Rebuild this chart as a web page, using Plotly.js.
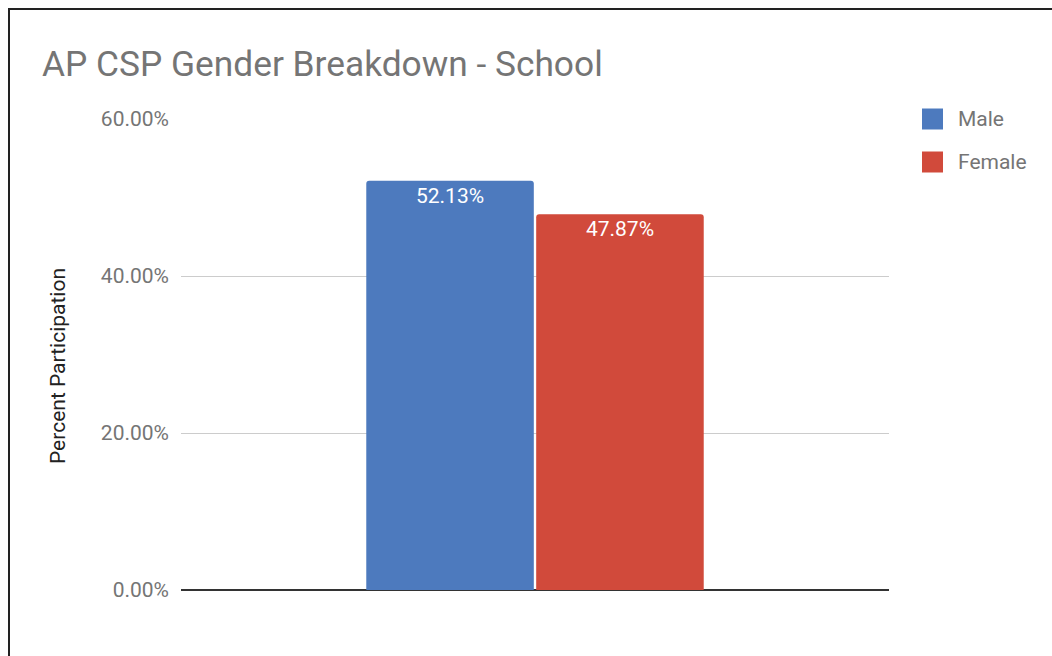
<!DOCTYPE html>
<html>
<head>
<meta charset="utf-8">
<script src="https://cdn.plot.ly/plotly-3.0.1.min.js"></script>
<style>
  html, body { margin: 0; padding: 0; background: #fff; }
  #wrap { position: relative; width: 1052px; height: 656px; overflow: hidden; }
  #chart { width: 1052px; height: 656px; }
  #frame { position: absolute; left: 8px; top: 8px; width: 1100px; height: 700px;
           border-left: 2px solid #222; border-top: 2px solid #222; pointer-events: none; }
</style>
</head>
<body>
<div id="wrap">
  <div id="chart"></div>
  <div id="frame"></div>
</div>
<script>
const categories = ["School"];
const seriesNames = ["Male", "Female"];
const maleValues = [52.13];
const femaleValues = [47.87];
const seriesColors = ["#4d7abe", "#d14a3b"];
const yTickValues = [0, 20, 40, 60];
const yTickLabels = ["0.00%", "20.00%", "40.00%", "60.00%"];
const titleText = "AP CSP Gender Breakdown - School";
const yTitleText = "Percent Participation";

const FONT = "Roboto, 'Noto Sans', Arial, sans-serif";
const GREY = "#757575";

function fmt(v) { return v.toFixed(2) + "%"; }

const allValues = [maleValues, femaleValues];
const traces = allValues.map((vals, i) => ({
  type: "bar",
  name: seriesNames[i],
  x: categories,
  y: vals,
  text: vals.map(fmt),
  textposition: "inside",
  insidetextanchor: "end",
  textfont: { family: FONT, size: 21, color: "#ffffff" },
  marker: { color: seriesColors[i], cornerradius: 3 },
  showlegend: false,
  hoverinfo: "skip"
}));

// custom legend (squares + labels) in paper coordinates
const plotL = 181, plotR = 889, plotT = 119, plotB = 590;
const pw = plotR - plotL, ph = plotB - plotT;
const px = v => (v - plotL) / pw;
const py = v => (plotB - v) / ph;
const legendRowsY = [119, 162];
const shapes = [];
const annotations = [];
seriesNames.forEach((n, i) => {
  const cy = legendRowsY[i];
  shapes.push({
    type: "rect", xref: "paper", yref: "paper",
    x0: px(922), x1: px(943), y0: py(cy + 10.5), y1: py(cy - 10.5),
    fillcolor: seriesColors[i], line: { width: 0 }
  });
  annotations.push({
    xref: "paper", yref: "paper", x: px(956), y: py(cy),
    xanchor: "left", yanchor: "middle", showarrow: false,
    text: n, font: { family: FONT, size: 21, color: GREY }
  });
});
annotations.push({
  xref: "paper", yref: "paper", x: px(58), y: py(366),
  xanchor: "center", yanchor: "middle", showarrow: false, textangle: -90,
  text: yTitleText, font: { family: FONT, size: 21, color: "#222222" }
});

const layout = {
  width: 1052, height: 656,
  margin: { l: plotL, r: 1052 - plotR, t: plotT, b: 656 - plotB, pad: 0 },
  paper_bgcolor: "#ffffff", plot_bgcolor: "#ffffff",
  title: {
    text: titleText, xref: "container", yref: "container",
    x: 42 / 1052, xanchor: "left", y: 1 - 64 / 656, yanchor: "middle",
    font: { family: FONT, size: 35.3, color: GREY }
  },
  barmode: "group", bargap: 0.52, bargroupgap: 0.014,
  xaxis: { type: "category", showticklabels: false, showgrid: false, zeroline: false,
           showline: false, ticks: "", fixedrange: true },
  yaxis: {
    range: [0, 60], tickvals: yTickValues, ticktext: yTickLabels,
    showgrid: true, gridcolor: "#cccccc", gridwidth: 1,
    zeroline: true, zerolinecolor: "#333333", zerolinewidth: 2,
    showline: false, ticks: "", ticklabelstandoff: 11,
    tickfont: { family: FONT, size: 21, color: GREY }, fixedrange: true
  },
  shapes: shapes,
  annotations: annotations,
  showlegend: false,
  font: { family: FONT }
};

Plotly.newPlot("chart", traces, layout, { displayModeBar: false, staticPlot: true });
</script>
</body>
</html>
